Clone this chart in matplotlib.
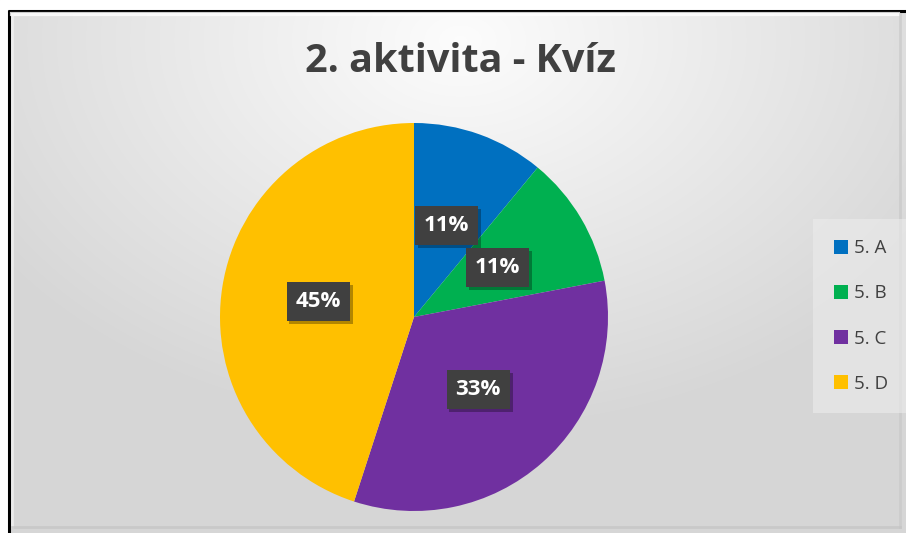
import numpy as np
import matplotlib
matplotlib.use("Agg")
import matplotlib.pyplot as plt
from matplotlib.patches import Patch, Rectangle
import matplotlib.patheffects as pe

categories = ["5. A", "5. B", "5. C", "5. D"]
values = [11, 11, 33, 45]
colors = ["#0070C0", "#00B050", "#7030A0", "#FFC000"]
title = "2. aktivita - Kvíz"

W, H = 906, 533
fig = plt.figure(figsize=(W / 100, H / 100), dpi=100)
plt.rcParams['font.family'] = ['Open Sans', 'DejaVu Sans']

# background gradient
bg = fig.add_axes([0, 0, 1, 1])
yy, xx = np.mgrid[0:H, 0:W]
d = np.sqrt(((xx - 460) / 600.0) ** 2 + ((yy - 40) / 420.0) ** 2)
g = np.clip(0.99 - 0.16 * d, 0.84, 1.0)
img = np.dstack([g, g, g])
bg.imshow(img, extent=[0, W, H, 0], aspect='auto')
bg.set_xlim(0, W)
bg.set_ylim(H, 0)
bg.axis('off')
bg.add_patch(Rectangle((0, 0), 8, H, color='white', zorder=2))
bg.add_patch(Rectangle((0, 0), W, 10, color='white', zorder=2))
bg.plot([8, W], [10.5, 10.5], color='black', lw=2.2, zorder=3, solid_capstyle='butt')
bg.plot([8.5, 8.5], [10, H], color='black', lw=2.2, zorder=3, solid_capstyle='butt')
bg.plot([12, W - 8], [14, 14], color='white', lw=3, alpha=0.8, zorder=3)
bg.plot([12, 12], [14, H - 6], color='#f4f4f4', lw=2, alpha=0.7, zorder=3)
bg.plot([W - 6, W - 6], [14, H - 6], color='#c8c8c8', lw=2, alpha=0.7, zorder=3)
bg.plot([12, W - 6], [H - 6, H - 6], color='#c4c4c4', lw=2, alpha=0.7, zorder=3)

# pie axes
cx, cy, r = 414, 317, 194
ax = fig.add_axes([(cx - r) / W, (H - cy - r) / H, 2 * r / W, 2 * r / H])
wedges, texts, autotexts = ax.pie(
    values, colors=colors, startangle=90, counterclock=False,
    autopct=lambda p: f"{p:.0f}%", pctdistance=0.5, radius=1.0,
    wedgeprops=dict(linewidth=0, edgecolor='none'))
ax.set_xlim(-1, 1)
ax.set_ylim(-1, 1)
ax.set_aspect('auto')
for t in autotexts:
    t.set_color('white')
    t.set_fontsize(16)
    t.set_fontweight('bold')
    t.set_bbox(dict(boxstyle='square,pad=0.4', facecolor='#404040', edgecolor='none'))
    t.get_bbox_patch().set_path_effects([
        pe.SimplePatchShadow(offset=(2, -2), shadow_rgbFace='black', alpha=0.3), pe.Normal()])

fig.text(460 / W, 1 - 61 / H, title, ha='center', va='center', fontsize=28.5,
         fontweight='bold', color='#404040')

handles = [Patch(facecolor=c, edgecolor='none') for c in colors]
leg = fig.legend(handles, categories, loc='center left', bbox_to_anchor=(819 / W, 1 - 316 / H),
                 frameon=True, fontsize=13.5, labelcolor='#404040', handlelength=0.75,
                 handleheight=0.75, handletextpad=0.3, labelspacing=1.45,
                 borderpad=0.8, borderaxespad=0)
leg.get_frame().set_facecolor('#ececec')
leg.get_frame().set_edgecolor('none')
leg.get_frame().set_alpha(0.6)
leg.get_frame().set_boxstyle('square')

fig.savefig('out.png', dpi=100)
